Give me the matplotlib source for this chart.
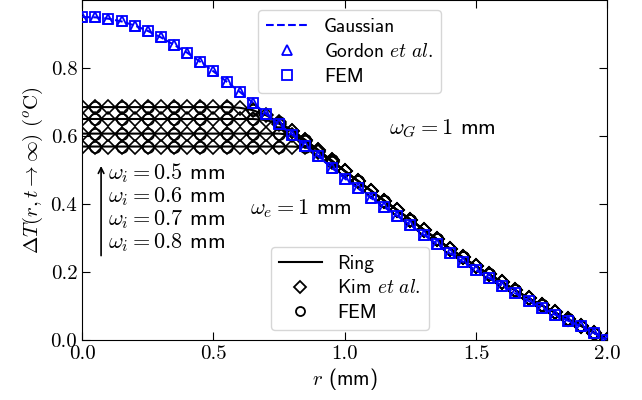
import numpy as np
import matplotlib
matplotlib.use('Agg')
import matplotlib.pyplot as plt
from matplotlib.lines import Line2D

plt.rcParams['font.family'] = ['cmss10', 'DejaVu Sans']
plt.rcParams['mathtext.fontset'] = 'cm'
plt.rcParams['axes.formatter.use_mathtext'] = False
plt.rcParams['axes.unicode_minus'] = False

# radial positions (mm), step 0.05
r = np.round(np.arange(0, 2.0001, 0.05), 2)

# Gaussian source, omega_G = 1 mm (Gordon et al. / FEM lie on it)
gauss = [0.950, 0.949, 0.945, 0.937, 0.925, 0.909, 0.890, 0.868, 0.845, 0.818,
         0.790, 0.760, 0.730, 0.698, 0.665, 0.634, 0.604, 0.572, 0.540, 0.507,
         0.475, 0.446, 0.418, 0.391, 0.365, 0.338, 0.310, 0.283, 0.255, 0.230,
         0.205, 0.182, 0.160, 0.137, 0.115, 0.095, 0.075, 0.057, 0.040, 0.020,
         0.000]

# ring source, omega_e = 1 mm; head r = 0..1.0, shared tail r = 1.05..2.0
ring_w05 = [0.685, 0.685, 0.685, 0.685, 0.685, 0.685, 0.685, 0.685, 0.685, 0.685,
            0.685, 0.685, 0.683, 0.676, 0.661, 0.641, 0.616, 0.588, 0.558, 0.528,
            0.497]
ring_w06 = [0.650, 0.650, 0.650, 0.650, 0.650, 0.650, 0.650, 0.650, 0.650, 0.650,
            0.650, 0.650, 0.650, 0.650, 0.647, 0.636, 0.614, 0.588, 0.558, 0.528,
            0.497]
ring_w07 = [0.607, 0.607, 0.607, 0.607, 0.607, 0.607, 0.607, 0.607, 0.607, 0.607,
            0.607, 0.607, 0.607, 0.607, 0.607, 0.607, 0.603, 0.585, 0.557, 0.527,
            0.497]
ring_w08 = [0.569, 0.569, 0.569, 0.569, 0.569, 0.569, 0.569, 0.569, 0.569, 0.569,
            0.569, 0.569, 0.569, 0.569, 0.569, 0.569, 0.569, 0.567, 0.552, 0.525,
            0.497]
ring_tail = [0.468, 0.439, 0.410, 0.382, 0.354, 0.325, 0.297, 0.269, 0.243, 0.217,
             0.193, 0.170, 0.146, 0.123, 0.102, 0.081, 0.061, 0.042, 0.021, 0.000]

wi_labels = ['0.5', '0.6', '0.7', '0.8']

fig, ax = plt.subplots(figsize=(6.42, 4.0), dpi=100)
fig.subplots_adjust(left=0.128, right=0.946, bottom=0.15, top=1.0)

for head in [ring_w05, ring_w06, ring_w07, ring_w08]:
    y = head + ring_tail
    ax.plot(r, y, color='k', lw=1.5, zorder=2)
    ax.plot(r, y, ls='none', marker='D', ms=7.5, mfc='none', mec='k', mew=1.2, zorder=3)
    ax.plot(r, y, ls='none', marker='o', ms=8, mfc='none', mec='k', mew=1.2,
            markevery=(1, 2), zorder=3)

ax.plot(r, gauss, color='b', ls='--', lw=1.5, zorder=4)
ax.plot(r, gauss, ls='none', marker='^', ms=7.5, mfc='none', mec='b', mew=1.3, zorder=5)
ax.plot(r, gauss, ls='none', marker='s', ms=7, mfc='none', mec='b', mew=1.3,
        markevery=(0, 1), zorder=5)

ax.set_xlim(0, 2.0)
ax.set_ylim(0, 1.0)
ax.set_xticks([0.0, 0.5, 1.0, 1.5, 2.0])
ax.set_yticks([0.0, 0.2, 0.4, 0.6, 0.8])
ax.tick_params(direction='in', top=True, right=True, labelsize=15, length=6)
for lab in ax.get_xticklabels() + ax.get_yticklabels():
    lab.set_fontfamily('cmr10')
ax.set_xlabel(r'$r$ (mm)', fontsize=15, labelpad=2)
ax.set_ylabel(r'$\Delta T(r,t\rightarrow\infty)\ (^o\mathrm{C})$', fontsize=15)

# annotations
ax.annotate('', xy=(0.072, 0.52), xytext=(0.072, 0.24),
            arrowprops=dict(arrowstyle='->', lw=1.2, color='k'))
for i, w in enumerate(wi_labels):
    ax.text(0.1, 0.49 - i * 0.068, r'$\omega_i = %s$ mm' % w, fontsize=16, va='center')
ax.text(0.64, 0.385, r'$\omega_e = 1$ mm', fontsize=16, va='center')
ax.text(1.17, 0.622, r'$\omega_G = 1$ mm', fontsize=16, va='center')

h1 = [Line2D([], [], color='b', ls='--', lw=1.5),
      Line2D([], [], ls='none', marker='^', ms=7, mfc='none', mec='b', mew=1.3),
      Line2D([], [], ls='none', marker='s', ms=7, mfc='none', mec='b', mew=1.3)]
leg1 = ax.legend(h1, ['Gaussian', r'Gordon $et\ al.$', 'FEM'], loc='upper left',
                 bbox_to_anchor=(0.335, 0.97), fontsize=14, borderaxespad=0,
                 handlelength=2.2, labelspacing=0.35)
ax.add_artist(leg1)
h2 = [Line2D([], [], color='k', lw=1.5),
      Line2D([], [], ls='none', marker='D', ms=6.5, mfc='none', mec='k', mew=1.3),
      Line2D([], [], ls='none', marker='o', ms=6.5, mfc='none', mec='k', mew=1.3)]
ax.legend(h2, ['Ring', r'Kim $et\ al.$', 'FEM'], loc='upper left',
          bbox_to_anchor=(0.36, 0.274), fontsize=14, borderaxespad=0,
          handlelength=2.2, labelspacing=0.35)

fig.savefig('out.png', dpi=100)
